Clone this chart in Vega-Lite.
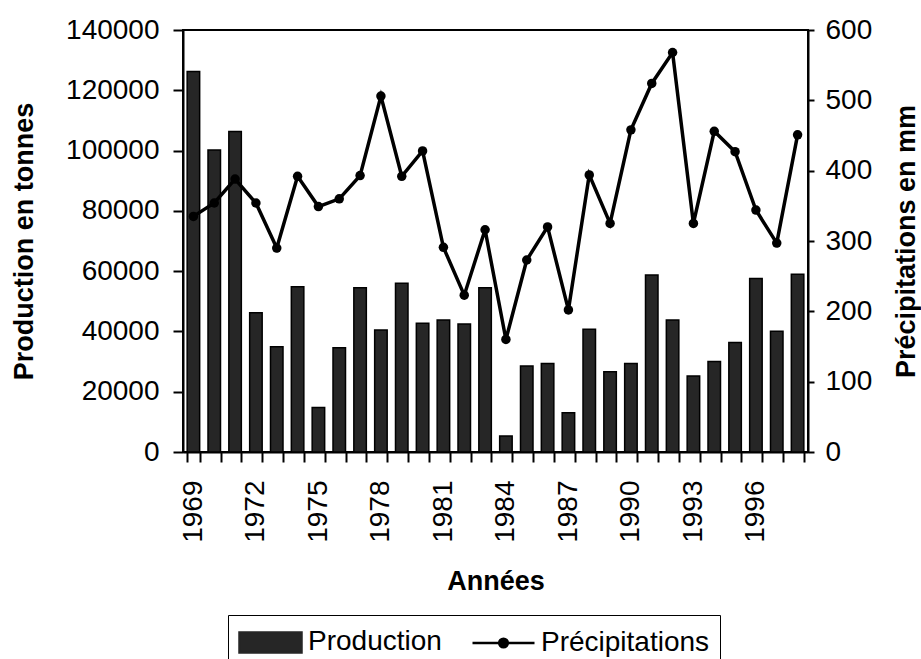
{
  "$schema": "https://vega.github.io/schema/vega-lite/v6.json",
  "width": 625,
  "height": 422,
  "autosize": {"type": "none"},
  "padding": {"left": 183, "top": 30, "right": 113, "bottom": 207},
  "background": "white",
  "config": {
    "font": "Liberation Sans",
    "view": {"stroke": "black", "strokeWidth": 2},
    "axis": {
      "domainColor": "black",
      "domainWidth": 2,
      "tickColor": "black",
      "tickWidth": 2,
      "labelColor": "black",
      "labelFontSize": 28,
      "titleFontSize": 27,
      "titleFontWeight": "bold",
      "titleColor": "black",
      "grid": false
    }
  },
  "data": {
    "values": [
      {"annee": "1969", "production": 126200, "precipitations": 335},
      {"annee": "1970", "production": 100200, "precipitations": 354},
      {"annee": "1971", "production": 106300, "precipitations": 388},
      {"annee": "1972", "production": 46200, "precipitations": 354},
      {"annee": "1973", "production": 34900, "precipitations": 290},
      {"annee": "1974", "production": 54800, "precipitations": 392},
      {"annee": "1975", "production": 14800, "precipitations": 349},
      {"annee": "1976", "production": 34600, "precipitations": 360},
      {"annee": "1977", "production": 54500, "precipitations": 393},
      {"annee": "1978", "production": 40500, "precipitations": 506},
      {"annee": "1979", "production": 56000, "precipitations": 392},
      {"annee": "1980", "production": 42700, "precipitations": 428},
      {"annee": "1981", "production": 43800, "precipitations": 291},
      {"annee": "1982", "production": 42500, "precipitations": 223},
      {"annee": "1983", "production": 54500, "precipitations": 316},
      {"annee": "1984", "production": 5300, "precipitations": 160},
      {"annee": "1985", "production": 28500, "precipitations": 273},
      {"annee": "1986", "production": 29400, "precipitations": 320},
      {"annee": "1987", "production": 13000, "precipitations": 202},
      {"annee": "1988", "production": 40700, "precipitations": 394},
      {"annee": "1989", "production": 26600, "precipitations": 325},
      {"annee": "1990", "production": 29400, "precipitations": 458},
      {"annee": "1991", "production": 58700, "precipitations": 524},
      {"annee": "1992", "production": 43800, "precipitations": 568},
      {"annee": "1993", "production": 25200, "precipitations": 325},
      {"annee": "1994", "production": 30000, "precipitations": 456},
      {"annee": "1995", "production": 36300, "precipitations": 427},
      {"annee": "1996", "production": 57600, "precipitations": 344},
      {"annee": "1997", "production": 40100, "precipitations": 297},
      {"annee": "1998", "production": 59000, "precipitations": 451}
    ]
  },
  "encoding": {
    "x": {
      "field": "annee",
      "type": "ordinal",
      "scale": {"paddingInner": 0.4, "paddingOuter": 0.2},
      "axis": {
        "title": "Années",
        "labelAngle": -90,
        "tickSize": 10,
        "tickBand": "extent",
        "labelPadding": 18,
        "titlePadding": 26,
        "labelExpr": "(+datum.value - 1969) % 3 == 0 ? datum.label : ''"
      }
    }
  },
  "layer": [
    {
      "mark": {"type": "bar", "stroke": "black", "strokeWidth": 1.5, "fill": "#262626"},
      "encoding": {
        "y": {
          "field": "production",
          "type": "quantitative",
          "scale": {"domain": [0, 140000]},
          "axis": {
            "title": "Production en tonnes",
            "values": [0, 20000, 40000, 60000, 80000, 100000, 120000, 140000],
            "format": "d",
            "tickSize": 10,
            "labelPadding": 14,
            "titlePadding": 27
          }
        },
        "color": {
          "datum": "Production",
          "scale": {"domain": ["Production", "Précipitations"], "range": ["#262626", "black"]},
          "legend": {
            "title": null,
            "orient": "none",
            "legendX": 45,
            "legendY": 585,
            "direction": "horizontal",
            "columns": 2,
            "strokeColor": "black",
            "padding": 10,
            "labelFontSize": 28,
            "labelColor": "black",
            "labelLimit": 500,
            "symbolType": "M-1,-0.65H3V0.65H-1Z",
            "symbolSize": 961,
            "symbolStrokeColor": "black",
            "symbolStrokeWidth": 2.5,
            "labelOffset": 36,
            "columnPadding": 25,
            "encode": {
              "symbols": {
                "update": {
                  "shape": [
                    {"test": "datum.value === 'Production'", "value": "M-1,-0.65H3V0.65H-1Z"},
                    {"value": "M-1,0H3M0.72,0A0.28,0.28,0,1,0,1.28,0A0.28,0.28,0,1,0,0.72,0Z"}
                  ],
                  "strokeWidth": {"value": 2.5}
                }
              }
            }
          }
        }
      }
    },
    {
      "mark": {"type": "line", "strokeWidth": 3.5, "point": {"filled": true, "size": 90}},
      "encoding": {
        "y": {
          "field": "precipitations",
          "type": "quantitative",
          "scale": {"domain": [0, 600]},
          "axis": {
            "title": "Précipitations en mm",
            "orient": "right",
            "values": [0, 100, 200, 300, 400, 500, 600],
            "tickSize": 6,
            "labelPadding": 11,
            "titlePadding": 22,
            "titleAngle": 270,
            "titleBaseline": "top"
          }
        },
        "color": {
          "datum": "Précipitations",
          "legend": {
            "title": null,
            "orient": "none",
            "legendX": 45,
            "legendY": 585,
            "direction": "horizontal",
            "columns": 2,
            "strokeColor": "black",
            "padding": 10,
            "labelFontSize": 28,
            "labelColor": "black",
            "labelLimit": 500,
            "symbolType": "M-1,-0.65H3V0.65H-1Z",
            "symbolSize": 961,
            "symbolStrokeColor": "black",
            "symbolStrokeWidth": 2.5,
            "labelOffset": 36,
            "columnPadding": 25,
            "encode": {
              "symbols": {
                "update": {
                  "shape": [
                    {"test": "datum.value === 'Production'", "value": "M-1,-0.65H3V0.65H-1Z"},
                    {"value": "M-1,0H3M0.72,0A0.28,0.28,0,1,0,1.28,0A0.28,0.28,0,1,0,0.72,0Z"}
                  ],
                  "strokeWidth": {"value": 2.5}
                }
              }
            }
          }
        }
      }
    }
  ],
  "resolve": {"scale": {"y": "independent"}}
}
